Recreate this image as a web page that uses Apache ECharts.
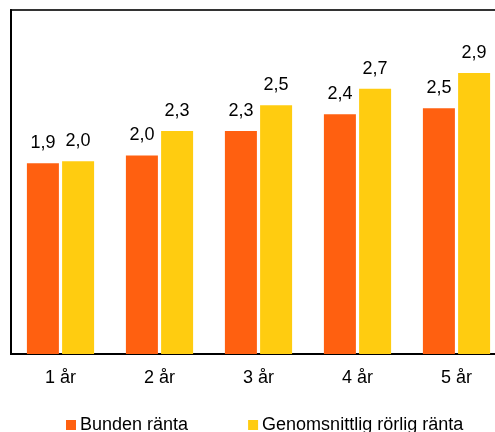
<!DOCTYPE html>
<html>
<head>
<meta charset="utf-8">
<script src="https://cdn.jsdelivr.net/npm/echarts@6/dist/echarts.min.js"></script>
<style>
	html, body { margin: 0; padding: 0; background: #fff; }
	#chart { width: 495px; height: 432px; }
</style>
</head>
<body>
<div id="chart"></div>
<script>
const categories = ['1 år', '2 år', '3 år', '4 år', '5 år']
const bunden = [1.94, 2.02, 2.27, 2.44, 2.5]
const rorlig = [1.96, 2.27, 2.53, 2.7, 2.86]
const seriesNames = ['Bunden ränta', 'Genomsnittlig rörlig ränta']

const font = 'Liberation Sans, Arial, sans-serif'
const fmt = (p) => p.value.toFixed(1).replace('.', ',')

const chart = echarts.init(document.getElementById('chart'), null, { renderer: 'canvas' })

const labelStyle = {
	show: true,
	position: 'top',
	distance: 11,
	color: '#000',
	fontFamily: font,
	fontSize: 18,
	formatter: fmt
}

chart.setOption({
	animation: false,
	grid: {
		left: 11,
		top: 10,
		width: 495,
		height: 344,
		outerBoundsMode: 'none',
		containLabel: false,
		show: true,
		borderColor: '#333',
		borderWidth: 2,
		backgroundColor: 'transparent'
	},
	legend: {
		left: 61,
		top: 411,
		itemWidth: 10,
		itemHeight: 10,
		itemGap: 60,
		icon: 'rect',
		textStyle: { fontFamily: font, fontSize: 18, color: '#000', padding: [0, 0, 0, -1] },
		data: seriesNames
	},
	xAxis: {
		type: 'category',
		data: categories,
		axisLine: { lineStyle: { color: '#000', width: 2 } },
		axisTick: { show: false },
		axisLabel: { color: '#000', fontFamily: font, fontSize: 18, margin: 15 }
	},
	yAxis: {
		type: 'value',
		min: 0,
		max: 3.5,
		axisLine: { show: true, lineStyle: { color: '#000', width: 2 } },
		axisTick: { show: false },
		axisLabel: { show: false },
		splitLine: { show: false }
	},
	series: [
		{
			name: seriesNames[0],
			type: 'bar',
			data: bunden,
			barWidth: 32,
			barGap: '10%',
			itemStyle: { color: '#ff6010' },
			label: labelStyle
		},
		{
			name: seriesNames[1],
			type: 'bar',
			data: rorlig,
			barWidth: 32,
			itemStyle: { color: '#ffcc10' },
			label: labelStyle
		}
	]
})
</script>
</body>
</html>
